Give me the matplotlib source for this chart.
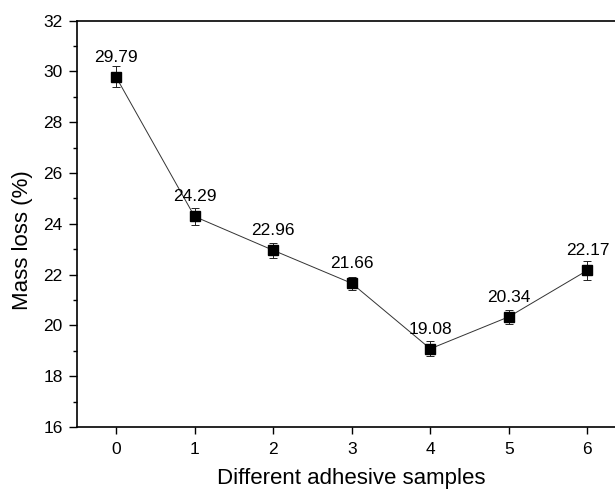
import matplotlib
matplotlib.use("Agg")
import matplotlib.pyplot as plt

samples = [0, 1, 2, 3, 4, 5, 6]
mass_loss = [29.79, 24.29, 22.96, 21.66, 19.08, 20.34, 22.17]
errors = [0.42, 0.34, 0.29, 0.25, 0.30, 0.28, 0.37]
labels = ["29.79", "24.29", "22.96", "21.66", "19.08", "20.34", "22.17"]

plt.rcParams['font.family'] = ['Liberation Sans', 'DejaVu Sans']

fig = plt.figure(figsize=(6.15, 4.92), dpi=100)
ax = fig.add_axes([76.7/615, 1-427/492, 550/615, (427-20.7)/492])

ax.plot(samples, mass_loss, '-', color='#333333', linewidth=0.7, zorder=2)
ax.errorbar(samples, mass_loss, yerr=errors, fmt='s', color='black',
            markersize=6.5, elinewidth=0.7, capsize=3, capthick=0.7,
            ecolor='#222222', zorder=3)
for x, y, t in zip(samples, mass_loss, labels):
    ax.annotate(t, (x, y), xytext=(0, 11), textcoords='offset points',
                ha='center', va='baseline', fontsize=12.5)

ax.set_xlim(-0.5, 6.5)
ax.set_ylim(16, 32)
ax.set_xticks(samples)
ax.set_yticks(range(16, 33, 2))
ax.set_yticks(range(17, 32, 2), minor=True)
ax.tick_params(axis='x', which='major', direction='out', length=5, width=1, labelsize=12.5, pad=6)
ax.tick_params(axis='y', which='major', direction='out', length=6, width=1, labelsize=12.5, pad=4)
ax.tick_params(axis='y', which='minor', direction='out', length=3, width=1)
for s in ['left', 'bottom', 'top', 'right']:
    ax.spines[s].set_linewidth(1.2)

ax.set_xlabel('Different adhesive samples', fontsize=16, labelpad=8)
ax.set_ylabel('Mass loss (%)', fontsize=16)
ax.yaxis.set_label_coords(-0.079, 0.46)

fig.savefig('out.png', dpi=100)
